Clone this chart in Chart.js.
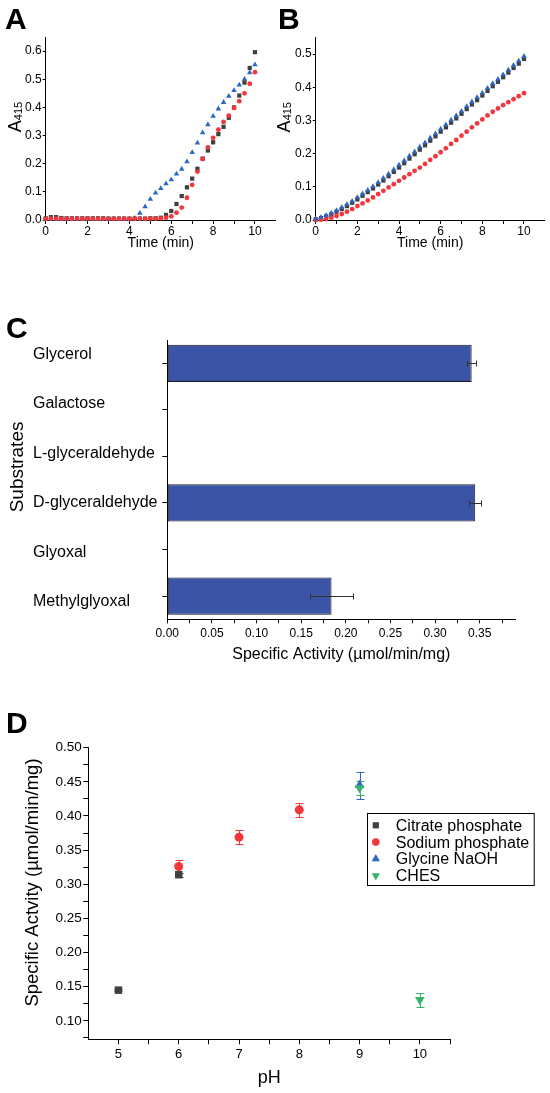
<!DOCTYPE html>
<html>
<head>
<meta charset="utf-8">
<title>Activity figure</title>
<script src="https://cdn.jsdelivr.net/npm/chart.js@4.4.1/dist/chart.umd.min.js"></script>
<style>
  html, body { margin: 0; padding: 0; background: #fff; }
  #fig { position: relative; width: 550px; height: 1093px; overflow: hidden; font-family: 'Liberation Sans', Arial, sans-serif; }
  #fig canvas { position: absolute; }
  .panel { position: absolute; font-weight: bold; font-size: 30px; line-height: 30px; color: #000; }
</style>
</head>
<body>
<div id="fig">
  <canvas id="chartA" width="280" height="262" style="left:0;top:0"></canvas>
  <canvas id="chartB" width="275" height="262" style="left:275px;top:0"></canvas>
  <canvas id="chartC" width="550" height="390" style="left:0;top:300px"></canvas>
  <canvas id="chartD" width="550" height="393" style="left:0;top:700px"></canvas>
  <div class="panel" style="left:5px;top:4px">A</div>
  <div class="panel" style="left:278px;top:4px">B</div>
  <div class="panel" style="left:6px;top:313px">C</div>
  <div class="panel" style="left:6px;top:708px">D</div>
</div>
<script>
Chart.defaults.font.family = "'Liberation Sans', Arial, Helvetica, sans-serif";
Chart.defaults.color = '#000';

// Panels A and B: A415 against time (min), one reading every 15 s
const timeMin = [0, 0.25, 0.5, 0.75, 1, 1.25, 1.5, 1.75, 2, 2.25, 2.5, 2.75, 3, 3.25, 3.5, 3.75, 4, 4.25, 4.5, 4.75, 5,
  5.25, 5.5, 5.75, 6, 6.25, 6.5, 6.75, 7, 7.25, 7.5, 7.75, 8, 8.25, 8.5, 8.75, 9, 9.25, 9.5, 9.75, 10];

const aBlack = [0.006, 0.010, 0.010, 0.007, 0.006, 0.006, 0.006, 0.006, 0.006, 0.006, 0.006, 0.006, 0.005, 0.005, 0.005, 0.005, 0.005, 0.005, 0.005, 0.005, 0.006,
  0.006, 0.008, 0.018, 0.032, 0.057, 0.085, 0.116, 0.147, 0.182, 0.218, 0.247, 0.276, 0.305, 0.331, 0.363, 0.400, 0.442, 0.488, 0.540, 0.596];
const aRed = [0.004, 0.005, 0.005, 0.004, 0.005, 0.004, 0.005, 0.004, 0.005, 0.004, 0.004, 0.005, 0.004, 0.004, 0.004, 0.005, 0.004, 0.004, 0.005, 0.004, 0.005,
  0.005, 0.006, 0.008, 0.013, 0.026, 0.044, 0.079, 0.125, 0.172, 0.217, 0.258, 0.292, 0.321, 0.348, 0.371, 0.398, 0.422, 0.450, 0.484, 0.525];
const aBlue = [0.003, 0.004, 0.003, 0.003, 0.003, 0.003, 0.003, 0.003, 0.003, 0.003, 0.003, 0.003, 0.003, 0.003, 0.003, 0.003, 0.003, 0.006, 0.024, 0.047, 0.074,
  0.096, 0.112, 0.129, 0.143, 0.164, 0.181, 0.207, 0.240, 0.274, 0.310, 0.339, 0.369, 0.395, 0.418, 0.440, 0.460, 0.480, 0.500, 0.523, 0.552];

const bBlack = [0.002, 0.006, 0.011, 0.017, 0.025, 0.033, 0.042, 0.052, 0.062, 0.073, 0.084, 0.095, 0.107, 0.119, 0.132, 0.145, 0.158, 0.171, 0.185, 0.198, 0.212,
  0.225, 0.239, 0.252, 0.266, 0.279, 0.293, 0.306, 0.320, 0.334, 0.348, 0.361, 0.375, 0.389, 0.403, 0.416, 0.430, 0.444, 0.458, 0.471, 0.485];
const bRed = [0.000, 0.001, 0.003, 0.007, 0.012, 0.018, 0.025, 0.033, 0.042, 0.050, 0.059, 0.068, 0.078, 0.088, 0.098, 0.108, 0.118, 0.128, 0.138, 0.148, 0.158,
  0.169, 0.181, 0.192, 0.204, 0.216, 0.229, 0.241, 0.254, 0.266, 0.279, 0.291, 0.303, 0.315, 0.326, 0.336, 0.346, 0.355, 0.364, 0.373, 0.382];
const bBlue = [0.003, 0.008, 0.014, 0.021, 0.029, 0.038, 0.047, 0.057, 0.068, 0.079, 0.090, 0.101, 0.113, 0.126, 0.139, 0.152, 0.166, 0.179, 0.193, 0.206, 0.220,
  0.233, 0.247, 0.260, 0.274, 0.287, 0.301, 0.314, 0.328, 0.342, 0.356, 0.369, 0.383, 0.397, 0.411, 0.424, 0.438, 0.452, 0.466, 0.479, 0.493];

const timeTicks = [0, 1, 2, 3, 4, 5, 6, 7, 8, 9, 10];
const timeTickLabels = ['0', '', '2', '', '4', '', '6', '', '8', '', '10'];
const aYTicks = [0, 0.1, 0.2, 0.3, 0.4, 0.5, 0.6];
const aYTickLabels = ['0.0', '0.1', '0.2', '0.3', '0.4', '0.5', '0.6'];
const bYTicks = [0, 0.1, 0.2, 0.3, 0.4, 0.5];
const bYTickLabels = ['0.0', '0.1', '0.2', '0.3', '0.4', '0.5'];

// Panel C: specific activity per substrate
const substrates = ['Glycerol', 'Galactose', 'L-glyceraldehyde', 'D-glyceraldehyde', 'Glyoxal', 'Methylglyoxal'];
const activity = [0.341, 0, 0, 0.345, 0, 0.184];
const activityErr = [0.005, 0, 0, 0.0065, 0, 0.024];
const activityTicks = [0, 0.025, 0.05, 0.075, 0.1, 0.125, 0.15, 0.175, 0.2, 0.225, 0.25, 0.275, 0.3, 0.325, 0.35, 0.375];
const activityTickLabels = ['0.00', '', '0.05', '', '0.10', '', '0.15', '', '0.20', '', '0.25', '', '0.30', '', '0.35', ''];

// Panel D: pH profile by buffer
const phCitrate = [5, 6];
const actCitrate = [0.145, 0.314];
const errCitrate = [0.002, 0.003];
const phSodium = [6, 7, 8];
const actSodium = [0.326, 0.369, 0.409];
const errSodium = [0.010, 0.010, 0.010];
const phGlycine = [9];
const actGlycine = [0.445];
const errGlycine = [0.020];
const phChes = [9, 10];
const actChes = [0.441, 0.131];
const errChes = [0.010, 0.010];
const phTicks = [5, 5.5, 6, 6.5, 7, 7.5, 8, 8.5, 9, 9.5, 10, 10.5];
const phTickLabels = ['5', '', '6', '', '7', '', '8', '', '9', '', '10', ''];
const dYTicks = [0.075, 0.1, 0.125, 0.15, 0.175, 0.2, 0.225, 0.25, 0.275, 0.3, 0.325, 0.35, 0.375, 0.4, 0.425, 0.45, 0.475, 0.5];
const dYTickLabels = ['', '0.10', '', '0.15', '', '0.20', '', '0.25', '', '0.30', '', '0.35', '', '0.40', '', '0.45', '', '0.50'];

const GREY = '#404040';
const RED = '#f2363c';
const BLUE = '#2d66c4';
const GREEN = '#38b46a';
const FONT = "'Liberation Sans', Arial, Helvetica, sans-serif";

function pts(xs, ys) {
    return xs.map((x, i) => ({ x: x, y: ys[i] }));
}

// linear axis with fixed tick list, outward ticks and a fixed box size
function linAxis(o) {
    return {
        type: 'linear',
        position: o.pos,
        min: o.min,
        max: o.max,
        afterBuildTicks: s => { s.ticks = o.ticks.map(v => ({ value: v })); },
        afterFit: s => { if (o.pos === 'bottom') s.height = o.size; else s.width = o.size; },
        grid: { drawOnChartArea: false, drawTicks: true, tickLength: o.tickLen, color: '#000', lineWidth: 1 },
        border: { display: true, color: '#000', width: 1 },
        ticks: {
            autoSkip: false, maxRotation: 0, padding: o.pad, color: '#000',
            font: { size: o.font },
            callback: (v, i) => o.labels[i]
        },
        title: o.title ? {
            display: true, text: o.title, color: '#000',
            font: { size: o.titleSize }, padding: { top: 0, bottom: o.titlePad }
        } : { display: false }
    };
}

function drawErrors(chart, o) {
    const ctx = chart.ctx;
    const horiz = chart.options.indexAxis === 'y';
    const xs = chart.scales.x, ys = chart.scales.y;
    chart.data.datasets.forEach((ds, di) => {
        if (!ds.errors) return;
        const meta = chart.getDatasetMeta(di);
        ctx.save();
        ctx.strokeStyle = ds.errorColor;
        ctx.lineWidth = 1;
        meta.data.forEach((el, i) => {
            const e = ds.errors[i];
            if (!e) return;
            ctx.beginPath();
            if (horiz) {
                const v = ds.data[i];
                const a = Math.round(xs.getPixelForValue(v - e)) + 0.5;
                const b = Math.round(xs.getPixelForValue(v + e)) + 0.5;
                const y = Math.round(el.y) + 0.5;
                ctx.moveTo(a, y); ctx.lineTo(b, y);
                ctx.moveTo(a, y - o.cap); ctx.lineTo(a, y + o.cap);
                ctx.moveTo(b, y - o.cap); ctx.lineTo(b, y + o.cap);
            } else {
                const v = ds.data[i].y;
                const a = Math.round(ys.getPixelForValue(v - e)) + 0.5;
                const b = Math.round(ys.getPixelForValue(v + e)) + 0.5;
                const x = Math.round(el.x) + 0.5;
                ctx.moveTo(x, a); ctx.lineTo(x, b);
                ctx.moveTo(x - o.cap, a); ctx.lineTo(x + o.cap, a);
                ctx.moveTo(x - o.cap, b); ctx.lineTo(x + o.cap, b);
            }
            ctx.stroke();
        });
        ctx.restore();
    });
}

const errorBars = {
    id: 'errorBars',
    beforeDatasetsDraw(chart, args, o) { if (o.layer === 'before') drawErrors(chart, o); },
    afterDatasetsDraw(chart, args, o) { if (o.layer !== 'before') drawErrors(chart, o); }
};

// rotated y title, optional subscript part
const sideTitle = {
    id: 'sideTitle',
    afterDraw(chart, args, o) {
        if (!o.text) return;
        const ctx = chart.ctx, a = chart.chartArea;
        const cy = (a.top + a.bottom) / 2 + (o.dy || 0);
        ctx.save();
        ctx.translate(o.x, cy);
        ctx.rotate(-Math.PI / 2);
        ctx.fillStyle = '#000';
        ctx.textBaseline = 'alphabetic';
        ctx.textAlign = 'left';
        ctx.font = o.size + 'px ' + FONT;
        const w1 = ctx.measureText(o.text).width;
        let w2 = 0;
        if (o.sub) {
            ctx.font = o.subSize + 'px ' + FONT;
            w2 = ctx.measureText(o.sub).width;
        }
        const x0 = -(w1 + w2) / 2;
        ctx.font = o.size + 'px ' + FONT;
        ctx.fillText(o.text, x0, 0);
        if (o.sub) {
            ctx.font = o.subSize + 'px ' + FONT;
            ctx.fillText(o.sub, x0 + w1, o.subDy || 0);
        }
        ctx.restore();
    }
};

// category names of panel C, left aligned and spread a little wider than the ticks
const catLabels = {
    id: 'catLabels',
    afterDraw(chart, args, o) {
        if (!o.show) return;
        const s = chart.scales.y, ctx = chart.ctx;
        const pivot = s.getPixelForTick(o.pivot);
        ctx.save();
        ctx.font = o.size + 'px ' + FONT;
        ctx.fillStyle = '#000';
        ctx.textBaseline = 'middle';
        ctx.textAlign = 'left';
        chart.data.labels.forEach((lab, i) => {
            const y = pivot + (s.getPixelForTick(i) - pivot) * o.spread;
            ctx.fillText(lab, s.left, y);
        });
        ctx.restore();
    }
};

// boxed legend drawn from the datasets
const boxLegend = {
    id: 'boxLegend',
    afterDraw(chart, args, o) {
        if (!o.show) return;
        const ctx = chart.ctx;
        ctx.save();
        ctx.strokeStyle = '#000';
        ctx.lineWidth = 1;
        ctx.strokeRect(Math.round(o.left) + 0.5, Math.round(o.top) + 0.5, o.width, o.height);
        chart.data.datasets.forEach((ds, i) => {
            const y = o.top + o.firstRow + i * o.rowGap;
            ctx.fillStyle = ds.pointBackgroundColor;
            Chart.helpers.drawPoint(ctx, {
                pointStyle: ds.pointStyle, rotation: ds.pointRotation || 0,
                radius: o.markerRadius[i], borderWidth: 0
            }, o.left + o.markerX, y);
            ctx.fillStyle = '#000';
            ctx.font = o.fontSize + 'px ' + FONT;
            ctx.textBaseline = 'middle';
            ctx.textAlign = 'left';
            ctx.fillText(ds.label, o.left + o.textX, y + 1);
        });
        ctx.restore();
    }
};

function series(label, xs, ys, color, style, r, order, extra) {
    return Object.assign({
        label: label,
        data: pts(xs, ys),
        pointStyle: style,
        pointRadius: r,
        pointHoverRadius: r,
        pointBackgroundColor: color,
        pointBorderWidth: 0,
        borderWidth: 0,
        showLine: false,
        clip: false,
        order: order
    }, extra || {});
}

function timeCourse(id, black, red, blue, yMax, yTicks, yLabels, geo, blueOrder) {
    return new Chart(document.getElementById(id), {
        type: 'scatter',
        data: {
            datasets: [
                series('black', timeMin, black, GREY, 'rect', 3, 2),
                series('red', timeMin, red, RED, 'circle', 2.4, 1),
                series('blue', timeMin, blue, BLUE, 'triangle', 3.2, blueOrder)
            ]
        },
        options: {
            responsive: false,
            animation: false,
            events: [],
            layout: { padding: { left: 0, top: geo.top, right: geo.right, bottom: 0 } },
            scales: {
                x: linAxis({ pos: 'bottom', min: 0, max: 11, ticks: timeTicks, labels: timeTickLabels, size: 42,
                    tickLen: 4, pad: 0, font: 12, title: 'Time (min)', titleSize: 14, titlePad: 10.6 }),
                y: linAxis({ pos: 'left', min: 0, max: yMax, ticks: yTicks, labels: yLabels, size: geo.yWidth,
                    tickLen: 3, pad: 1, font: 12 })
            },
            plugins: {
                legend: { display: false },
                tooltip: { enabled: false },
                sideTitle: { text: 'A', sub: '415', x: geo.titleX, dy: -11.5, size: 18, subSize: 11, subDy: 1 }
            }
        },
        plugins: [sideTitle]
    });
}

timeCourse('chartA', aBlack, aRed, aBlue, 0.65, aYTicks, aYTickLabels,
    { top: 37, right: 4.1, yWidth: 45.7, titleX: 21 }, 3);
timeCourse('chartB', bBlack, bRed, bBlue, 0.55, bYTicks, bYTickLabels,
    { top: 37.4, right: 5.2, yWidth: 40.7, titleX: 15 }, 0);

new Chart(document.getElementById('chartC'), {
    type: 'bar',
    data: {
        labels: substrates,
        datasets: [{
            data: activity,
            errors: activityErr,
            errorColor: '#333',
            backgroundColor: '#3a55a5',
            borderColor: '#1c1c1c',
            borderWidth: ctx => (ctx.raw > 0 ? 1 : 0),
            borderSkipped: false,
            barPercentage: 0.8,
            categoryPercentage: 1
        }]
    },
    options: {
        indexAxis: 'y',
        responsive: false,
        animation: false,
        events: [],
        layout: { padding: { left: 33, top: 40, right: 34.6, bottom: 0 } },
        scales: {
            x: linAxis({ pos: 'bottom', min: 0, max: 0.39, ticks: activityTicks, labels: activityTickLabels, size: 70.7,
                tickLen: 4, pad: 3, font: 12, title: 'Specific Activity (\u00b5mol/min/mg)', titleSize: 16, titlePad: 26 }),
            y: {
                type: 'category',
                position: 'left',
                afterFit: s => { s.width = 134.3; },
                grid: { offset: false, drawOnChartArea: false, drawTicks: true, tickLength: 5, color: '#000' },
                border: { display: true, color: '#000', width: 1 },
                ticks: { display: false, autoSkip: false }
            }
        },
        plugins: {
            legend: { display: false },
            tooltip: { enabled: false },
            errorBars: { layer: 'after', cap: 3 },
            catLabels: { show: true, size: 16, pivot: 3, spread: 1.064 },
            sideTitle: { text: 'Substrates', x: 22.5, dy: -12.7, size: 19 }
        }
    },
    plugins: [errorBars, catLabels, sideTitle]
});

new Chart(document.getElementById('chartD'), {
    type: 'scatter',
    data: {
        datasets: [
            series('Citrate phosphate', phCitrate, actCitrate, GREY, 'rect', 5.3, 4, { errors: errCitrate, errorColor: GREY }),
            series('Sodium phosphate', phSodium, actSodium, RED, 'circle', 4.5, 3, { errors: errSodium, errorColor: RED }),
            series('Glycine NaOH', phGlycine, actGlycine, BLUE, 'triangle', 5.6, 2, { errors: errGlycine, errorColor: BLUE }),
            series('CHES', phChes, actChes, GREEN, 'triangle', 5.6, 1, { errors: errChes, errorColor: GREEN, pointRotation: 180 })
        ]
    },
    options: {
        responsive: false,
        animation: false,
        events: [],
        layout: { padding: { left: 0, top: 47.7, right: 100, bottom: 0 } },
        scales: {
            x: linAxis({ pos: 'bottom', min: 4.5, max: 10.5, ticks: phTicks, labels: phTickLabels, size: 53.7,
                tickLen: 5, pad: 2, font: 13, title: 'pH', titleSize: 18, titlePad: 4 }),
            y: linAxis({ pos: 'left', min: 0.073, max: 0.5, ticks: dYTicks, labels: dYTickLabels, size: 88.3,
                tickLen: 5, pad: 1.5, font: 13.5 })
        },
        plugins: {
            legend: { display: false },
            tooltip: { enabled: false },
            errorBars: { layer: 'before', cap: 4 },
            sideTitle: { text: 'Specific Actvity (\u00b5mol/min/mg)', x: 37.5, dy: -11, size: 18.5 },
            boxLegend: {
                show: true, left: 366.7, top: 113.3, width: 166.7, height: 72,
                firstRow: 12, rowGap: 16.8, markerX: 9.1, textX: 29.1, fontSize: 16,
                markerRadius: [4.4, 3.8, 4.8, 4.8]
            }
        }
    },
    plugins: [errorBars, sideTitle, boxLegend]
});
</script>
</body>
</html>
